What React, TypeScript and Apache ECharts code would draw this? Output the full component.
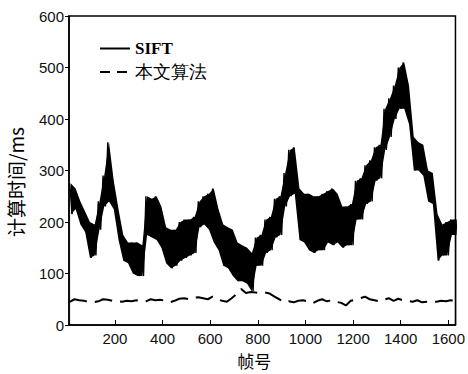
import React, { useEffect, useRef } from "react";
import * as echarts from "echarts";

// frame numbers of each sample (every 20 frames)
const frames = [
  10, 30, 50, 70, 90, 110, 130, 150, 170, 190, 210, 230, 250, 270, 290, 310, 330, 350, 370, 390,
  410, 430, 450, 470, 490, 510, 530, 550, 570, 590, 610, 630, 650, 670, 690, 710, 730, 750, 770, 790,
  810, 830, 850, 870, 890, 910, 930, 950, 970, 990, 1010, 1030, 1050, 1070, 1090, 1110, 1130, 1150, 1170, 1190,
  1210, 1230, 1250, 1270, 1290, 1310, 1330, 1350, 1370, 1390, 1410, 1430, 1450, 1470, 1490, 1510, 1530, 1550, 1570, 1590,
  1610, 1630,
];

// SIFT: upper and lower values of the noisy trace read at each sample
const siftHigh = [
  275, 265, 240, 220, 200, 195, 240, 290, 355, 280, 225, 175, 160, 160, 160, 155, 250, 245, 250, 230,
  190, 185, 185, 200, 205, 205, 210, 240, 250, 255, 265, 225, 195, 190, 185, 160, 155, 150, 140, 170,
  175, 205, 210, 245, 250, 295, 340, 345, 265, 255, 255, 250, 250, 255, 260, 265, 255, 230, 230, 235,
  280, 285, 310, 320, 345, 350, 420, 440, 465, 500, 510, 465, 365, 355, 350, 300, 295, 215, 195, 200,
  205, 205,
];
const siftLow = [
  215, 225, 195, 180, 130, 135, 185, 230, 240, 225, 165, 125, 120, 100, 95, 95, 175, 170, 165, 150,
  120, 110, 115, 125, 130, 135, 140, 190, 195, 185, 160, 145, 115, 110, 95, 85, 85, 80, 65, 115,
  115, 140, 145, 170, 175, 230, 250, 255, 165, 160, 145, 140, 145, 145, 160, 155, 160, 150, 155, 155,
  205, 205, 235, 240, 280, 285, 340, 365, 400, 420, 420, 390, 300, 300, 290, 240, 235, 125, 135, 135,
  175, 175,
];

// proposed method (本文算法)
const proposed = [
  45, 50, 48, 47, 45, 44, 46, 50, 49, 47, 46, 45, 47, 46, 48, 47, 46, 50, 48, 49,
  47, 44, 47, 51, 52, 50, 53, 54, 52, 50, 55, 50, 47, 45, 52, 60, 70, 62, 64, 63,
  62, 63, 61, 55, 50, 44, 46, 44, 47, 48, 46, 42, 47, 50, 46, 48, 45, 43, 38, 47,
  49, 52, 55, 50, 48, 46, 49, 52, 47, 51, 48, 47, 45, 48, 44, 45, 46, 45, 47, 46,
  48, 47,
];

const xTicks = [200, 400, 600, 800, 1000, 1200, 1400, 1600];
const seriesNames = ["SIFT", "本文算法"];
const yAxisTitle = "计算时间/ms";

export default function App() {
  const ref = useRef<HTMLDivElement>(null);
  useEffect(() => {
    if (!ref.current) return;
    const chart = echarts.init(ref.current, undefined, { renderer: "svg" });
    const siftData: number[][] = [];
    frames.forEach((f, i) => {
      siftData.push([f, siftHigh[i]]);
      siftData.push([f + 10, siftLow[i]]);
    });
    const bandTop = frames.map((f, i) => [f + 5, siftHigh[i]]);
    const bandBottom = frames.map((f, i) => [f + 5, siftLow[i]]);
    const propData = frames.map((f, i) => [f, proposed[i]]);
    const labelFont = { fontFamily: "Liberation Sans", fontSize: 15, color: "#111" };
    chart.setOption({
      animation: false,
      backgroundColor: "#fff",
      grid: {
        left: 69,
        right: 9,
        top: 16,
        bottom: 43,
        show: true,
        borderColor: "#000",
        borderWidth: 1.5,
        z: 20,
      },
      legend: {
        orient: "vertical",
        left: 94,
        top: 35,
        itemWidth: 30,
        itemHeight: 14,
        itemGap: 6,
        itemStyle: { opacity: 0 },
        textStyle: { fontFamily: "Liberation Serif", fontSize: 17, color: "#000" },
        data: [
          { name: seriesNames[0], textStyle: { fontWeight: "bold" } },
          { name: seriesNames[1], textStyle: { fontSize: 18 }, lineStyle: { type: [10, 7] } },
        ],
      },
      graphic: [
        {
          type: "text",
          x: 15,
          y: 182,
          rotation: Math.PI / 2,
          style: {
            text: yAxisTitle,
            fontFamily: "Noto Sans CJK SC",
            fontSize: 19,
            fill: "#000",
            align: "center",
            verticalAlign: "middle",
          },
        },
      ],
      xAxis: {
        type: "value",
        min: 7,
        max: 1630,
        z: 20,
        name: "帧号",
        nameLocation: "middle",
        nameGap: 27,
        nameTextStyle: {
          fontFamily: "Noto Sans CJK SC",
          fontSize: 17,
          color: "#000",
          padding: [0, 16, 0, 0],
        },
        axisLine: { lineStyle: { color: "#000", width: 1.5 } },
        axisTick: { inside: true, length: 5, customValues: xTicks, lineStyle: { color: "#000" } },
        axisLabel: {
          ...labelFont,
          margin: 6,
          customValues: xTicks,
          formatter: (v: number) => String(v),
        },
        splitLine: { show: false },
      },
      yAxis: {
        type: "value",
        min: 0,
        max: 600,
        interval: 100,
        z: 20,
        axisLine: { show: true, lineStyle: { color: "#000", width: 1.5 } },
        axisTick: { show: true, inside: false, length: 4, lineStyle: { color: "#000" } },
        axisLabel: { ...labelFont, margin: 5 },
        splitLine: { show: false },
      },
      series: [
        {
          name: "band-top",
          type: "line",
          z: 1,
          data: bandTop,
          symbol: "none",
          lineStyle: { opacity: 0 },
          areaStyle: { color: "#000", opacity: 1 },
          silent: true,
        },
        {
          name: "band-bottom",
          type: "line",
          z: 1,
          data: bandBottom,
          symbol: "none",
          lineStyle: { opacity: 0 },
          areaStyle: { color: "#fff", opacity: 1 },
          silent: true,
        },
        {
          name: seriesNames[0],
          type: "line",
          z: 3,
          data: siftData,
          symbol: "none",
          lineStyle: { color: "#000", width: 1.4 },
          itemStyle: { color: "#000" },
        },
        {
          name: seriesNames[1],
          type: "line",
          z: 3,
          data: propData,
          symbol: "none",
          lineStyle: { color: "#000", width: 2, type: [18, 8] },
          itemStyle: { color: "#000" },
        },
      ],
    });
    return () => chart.dispose();
  }, []);
  return (
    <div
      ref={ref}
      style={{ position: "fixed", left: 0, top: 0, width: 468, height: 374 }}
    />
  );
}
